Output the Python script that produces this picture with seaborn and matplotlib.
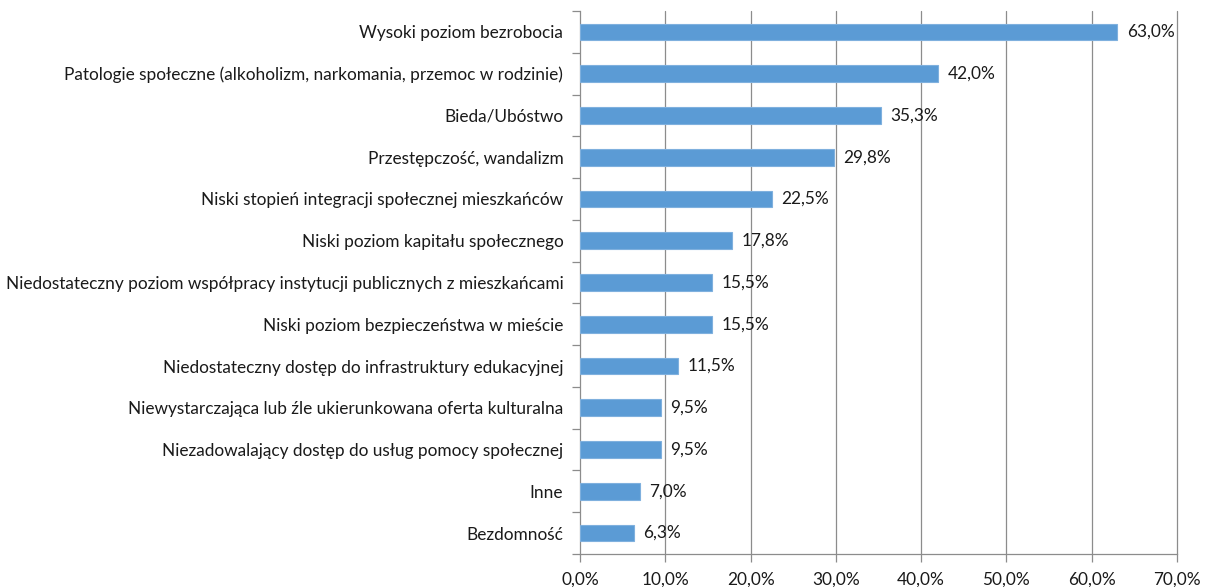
import matplotlib
matplotlib.use("Agg")
import matplotlib.pyplot as plt
import seaborn as sns
import pandas as pd
from matplotlib.ticker import FuncFormatter

categories = [
    "Wysoki poziom bezrobocia",
    "Patologie społeczne (alkoholizm, narkomania, przemoc w rodzinie)",
    "Bieda/Ubóstwo",
    "Przestępczość, wandalizm",
    "Niski stopień integracji społecznej mieszkańców",
    "Niski poziom kapitału społecznego",
    "Niedostateczny poziom współpracy instytucji publicznych z mieszkańcami",
    "Niski poziom bezpieczeństwa w mieście",
    "Niedostateczny dostęp do infrastruktury edukacyjnej",
    "Niewystarczająca lub źle ukierunkowana oferta kulturalna",
    "Niezadowalający dostęp do usług pomocy społecznej",
    "Inne",
    "Bezdomność",
]
values = [63.0, 42.0, 35.3, 29.8, 22.5, 17.8, 15.5, 15.5, 11.5, 9.5, 9.5, 7.0, 6.3]
x_ticks = [0, 10, 20, 30, 40, 50, 60, 70]

df = pd.DataFrame({"kategoria": categories, "procent": values})

sns.set_theme(style="white")
plt.rcParams["font.family"] = ["Lato", "DejaVu Sans"]

bar_color = "#5B9BD5"
grid_color = "#8C8C8C"
text_color = "#1A1A1A"
fs = 12.4

fig = plt.figure(figsize=(12.05, 5.87), dpi=100)
ax = fig.add_axes([580 / 1205, 1 - 554 / 587, (1177 - 580) / 1205, (554 - 11) / 587])

sns.barplot(data=df, x="procent", y="kategoria", orient="h", color=bar_color,
            saturation=1, width=0.4, edgecolor="#7FB0DE", linewidth=0.8, ax=ax, zorder=3)

ax.set_xlim(0, 70)
ax.set_ylim(len(categories) - 0.5, -0.5)
ax.set_xticks(x_ticks)
ax.xaxis.set_major_formatter(FuncFormatter(lambda v, _: f"{v:.1f}%".replace(".", ",")))
ax.set_xlabel("")
ax.set_ylabel("")

for x in x_ticks[1:]:
    ax.axvline(x, color=grid_color, linewidth=0.9, zorder=1, clip_on=False)

for s in ["top", "right"]:
    ax.spines[s].set_visible(False)
for s in ["left", "bottom"]:
    ax.spines[s].set_color(grid_color)
    ax.spines[s].set_linewidth(0.9)

# category ticks sit on the boundaries between bars
ax.set_yticks([i - 0.5 for i in range(len(categories) + 1)], minor=True)
ax.tick_params(axis="y", which="minor", length=6, color=grid_color, width=0.9, left=True)
ax.tick_params(axis="y", which="major", length=0, pad=12, labelsize=fs, labelcolor=text_color)
ax.tick_params(axis="x", which="major", length=6, color=grid_color, width=0.9, bottom=True,
               pad=7, labelsize=fs, labelcolor=text_color)

for i, v in enumerate(values):
    ax.text(v + 1.1, i, f"{v:.1f}%".replace(".", ","), va="center", ha="left",
            fontsize=fs, color=text_color)

fig.savefig("out.png", dpi=100)
